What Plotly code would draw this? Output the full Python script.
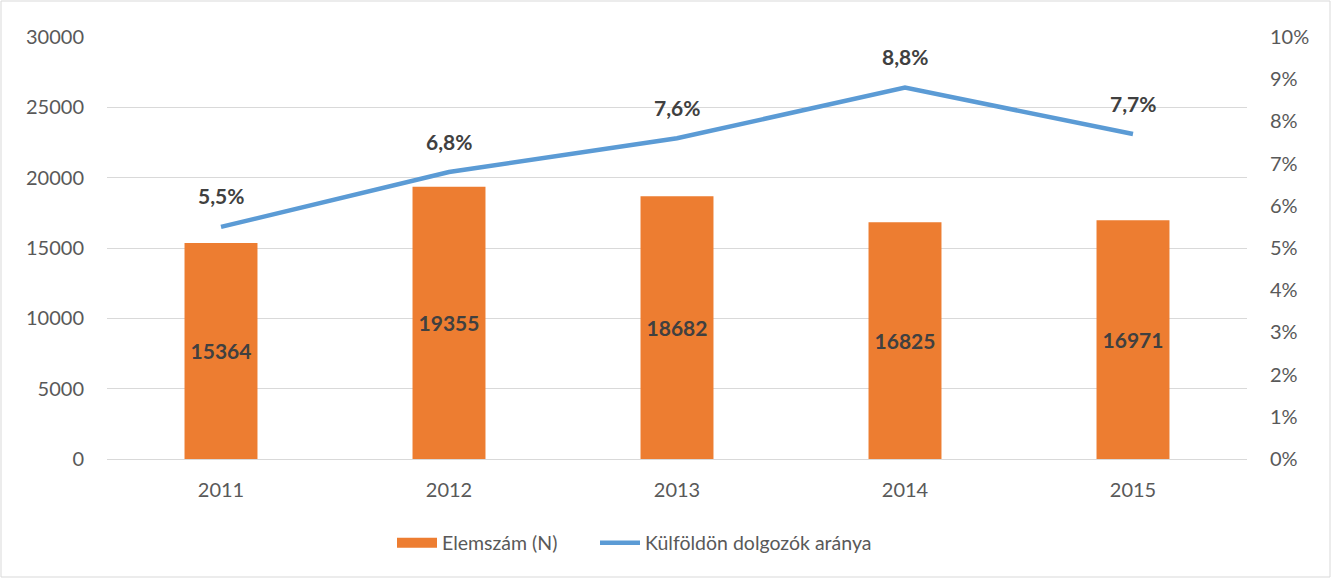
import plotly.graph_objects as go

years = ["2011", "2012", "2013", "2014", "2015"]
elemszam = [15364, 19355, 18682, 16825, 16971]
arany = [0.055, 0.068, 0.076, 0.088, 0.077]
arany_labels = ["5,5%", "6,8%", "7,6%", "8,8%", "7,7%"]

FONT = "Lato, 'Open Sans', sans-serif"
GRAY = "#595959"
DARK = "#404040"
ORANGE = "#ED7D31"
BLUE = "#5B9BD5"

fig = go.Figure()
fig.add_trace(go.Bar(
    x=years, y=elemszam, name="Elemszám (N)", showlegend=False,
    marker=dict(color=ORANGE, line=dict(width=0)),
    width=0.32,
    text=[str(v) for v in elemszam], textposition="inside",
    insidetextanchor="middle",
    textfont=dict(family=FONT, size=21, color=DARK, weight="bold"),
    textangle=0,
))
# legend proxy for bar series (wide rectangle swatch)
fig.add_trace(go.Scatter(
    x=[None], y=[None], name="Elemszám (N)", mode="lines",
    line=dict(color=ORANGE, width=14), legend="legend",
))
fig.add_trace(go.Scatter(
    x=years, y=arany, name="Külföldön dolgozók aránya", yaxis="y2",
    mode="lines", line=dict(color=BLUE, width=4.5), legend="legend2",
))
for i, (y, t) in enumerate(zip(arany, arany_labels)):
    fig.add_annotation(x=i, y=y, xref="x", yref="y2", text=t, showarrow=False,
                       yshift=31, font=dict(family=FONT, size=21, color=DARK, weight="bold"))

W, H = 1331, 579
L, R, T, B = 107, 84, 37, 120
pw, ph = W - L - R, H - T - B
x0 = (1 - L) / pw
x1 = (1330 - L) / pw
y1 = (H - B - 1) / ph
y0 = (H - B - 577) / ph
fig.add_shape(type="rect", xref="paper", yref="paper", x0=x0, x1=x1, y0=y0, y1=y1,
              line=dict(color="#d9d9d9", width=1), layer="below")

leg_y = (H - B - 543) / ph
fig.update_layout(
    width=W, height=H,
    margin=dict(l=L, r=R, t=T, b=B),
    plot_bgcolor="white", paper_bgcolor="white",
    separators=", ",
    font=dict(family=FONT, size=20, color=GRAY),
    xaxis=dict(type="category", range=[-0.5, len(years) - 0.5], autorange=False,
               showgrid=False, showline=True, linecolor="#d9d9d9", linewidth=1,
               ticks="", ticklabelstandoff=13, tickfont=dict(size=20, color=GRAY)),
    yaxis=dict(range=[0, 30000], dtick=5000, showgrid=True, gridcolor="#d9d9d9",
               gridwidth=1, zeroline=False, showline=False, ticks="",
               ticklabelstandoff=22, tickformat="d", tickfont=dict(size=20, color=GRAY)),
    yaxis2=dict(range=[0, 0.10], dtick=0.01, overlaying="y", side="right",
                showgrid=False, zeroline=False, showline=False, ticks="",
                tickformat=".0%", ticklabelstandoff=22, tickfont=dict(size=20, color=GRAY)),
    legend=dict(orientation="h", x=(392 - L) / pw, xanchor="left", y=leg_y,
                yanchor="middle", font=dict(size=19.5, color=GRAY), itemwidth=40),
    legend2=dict(orientation="h", x=(595 - L) / pw, xanchor="left", y=leg_y,
                 yanchor="middle", font=dict(size=19.5, color=GRAY), itemwidth=40),
    showlegend=True,
)
fig.write_html("out.html")
